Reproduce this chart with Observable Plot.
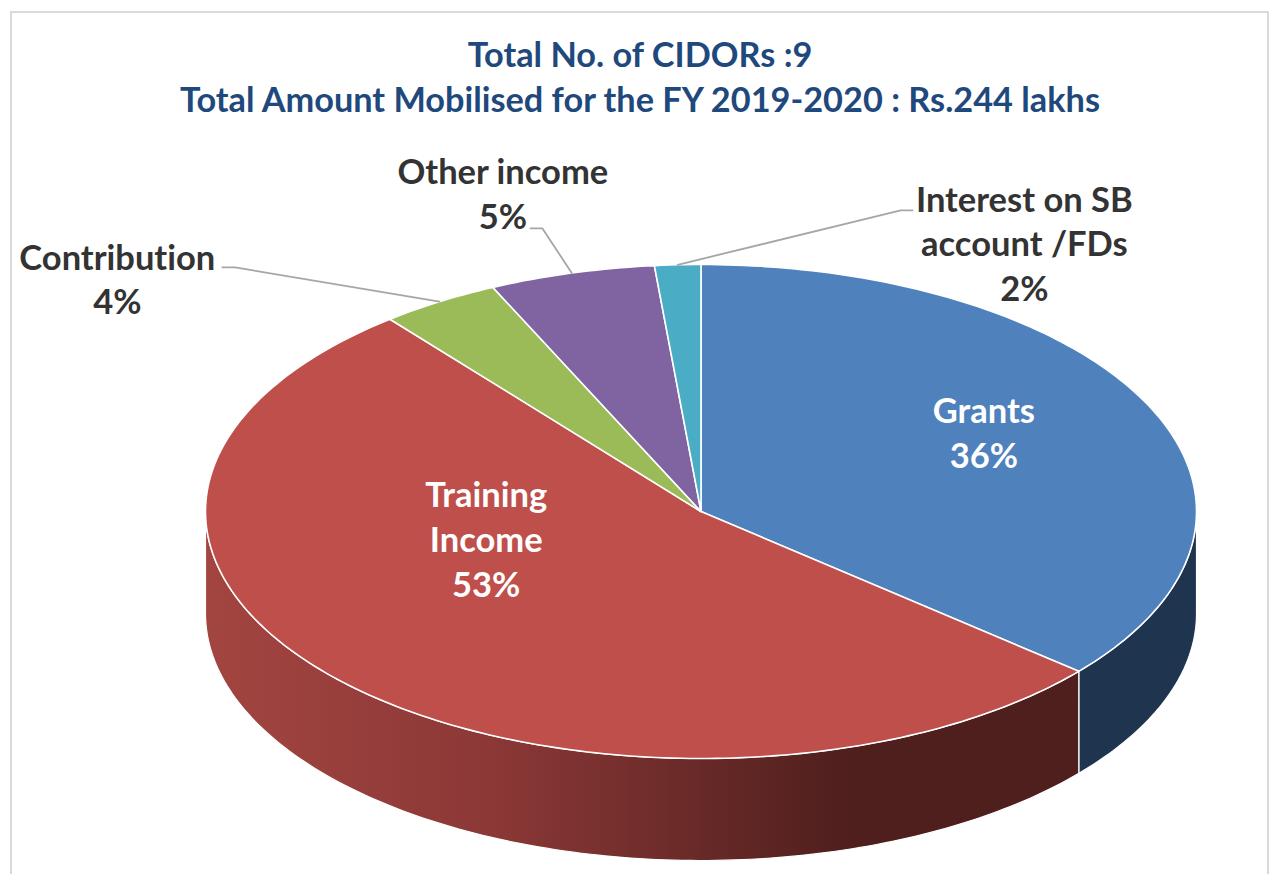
<!DOCTYPE html>
<html>
<head>
<meta charset="utf-8">
<script src="https://cdn.jsdelivr.net/npm/d3@7"></script>
<script src="https://cdn.jsdelivr.net/npm/@observablehq/plot@0.6"></script>
<style>
  html, body { margin: 0; padding: 0; background: #fff; overflow: hidden; }
  #frame { position: absolute; left: 10px; top: 11px; width: 1259px; height: 880px;
           border: 2px solid #d9d9d9; box-sizing: border-box; }
  #title { position: absolute; left: 0; top: 0; width: 1271px; height: 130px; text-align: center;
           font-family: Lato, sans-serif; font-weight: 700; font-size: 34.3px; color: #1f497d;
           font-variant-ligatures: none; }
  #title div { position: absolute; width: 100%; line-height: 45px; }
  #chart { position: absolute; left: 0; top: 130px; }
  #chart svg { display: block; background: transparent; font-variant-ligatures: none; }
</style>
</head>
<body>
<div id="frame"></div>
<div id="title">
  <div style="top:31px; left:4.5px">Total No. of CIDORs :9</div>
  <div style="top:76px; left:4.5px">Total Amount Mobilised for the FY 2019-2020 : Rs.244 lakhs</div>
</div>
<div id="chart"></div>
<script>
// Data
const categories = ["Grants", "Training Income", "Contribution", "Other income", "Interest on SB account /FDs"];
const sliceShares = [36.2, 53.0, 3.9, 5.4, 1.5];
const shareLabels = ["36%", "53%", "4%", "5%", "2%"];
const labelLines = ["Grants", "Training\nIncome", "Contribution", "Other income", "Interest on SB\naccount /FDs"];

// Styling
const topColors = ["#4f81bd", "#be4f4b", "#9bbb59", "#8064a2", "#4bacc6"];
const sideFills = {"Grants": "#1f344e", "Training Income": "url(#redSide)"};
const labelColors = ["#ffffff", "#ffffff", "#333333", "#333333", "#333333"];
const depth = 0.413;

// Layout: label radius and pixel nudge, and leader waypoints in pie units
const labelPlacement = [
  {r: 0.6, dx: 13, dy: -18},
  {r: 0.6, dx: -2, dy: -77},
  {r: 1.1, dx: -296, dy: -3},
  {r: 1.1, dx: -56, dy: -57},
  {r: 1.1, dx: 349, dy: 2}
];
const leaderWaypoints = {
  "Contribution": [[-0.94, -0.988], [-0.966, -0.988]],
  "Other income": [[-0.32, -1.146], [-0.344, -1.146]],
  "Interest on SB account /FDs": [[0.403, -1.219], [0.427, -1.219]]
};

// Geometry derived from the shares (clockwise from 12 o'clock)
const total = d3.sum(sliceShares);
const cum = d3.cumsum(sliceShares);
const deg = (s) => (s / total) * 360;
const polar = (a, r = 1) => {
  const t = (a * Math.PI) / 180;
  return [r * Math.sin(t), -r * Math.cos(t)];
};
const arc = (a0, a1) => {
  const n = Math.max(2, Math.ceil(Math.abs(a1 - a0)));
  return d3.range(n + 1).map((i) => polar(a0 + ((a1 - a0) * i) / n));
};
const slices = categories.map((name, i) => {
  const a0 = deg(i ? cum[i - 1] : 0), a1 = deg(cum[i]);
  return {name, a0, a1, mid: (a0 + a1) / 2, i};
});

const topPoints = slices.flatMap((s) =>
  [[0, 0], ...arc(s.a0, s.a1), [0, 0]].map(([x, y]) => ({name: s.name, x, y})));

const sideMarks = slices
  .filter((s) => sideFills[s.name])
  .map((s) => {
    const outer = arc(Math.max(s.a0, 90), Math.min(s.a1, 270));
    const ring = [...outer, ...outer.slice().reverse().map(([x, y]) => [x, y + depth]), outer[0]];
    return Plot.line(ring, {
      x: (d) => d[0], y: (d) => d[1], curve: "linear",
      fill: sideFills[s.name], stroke: "#fff", strokeWidth: 1.2, strokeLinejoin: "round"
    });
  });

const labelMarks = slices.map((s) => {
  const p = labelPlacement[s.i];
  const [x, y] = polar(s.mid, p.r);
  return Plot.text([{x, y, t: labelLines[s.i] + "\n" + shareLabels[s.i]}], {
    x: "x", y: "y", text: "t", dx: p.dx, dy: p.dy,
    fill: labelColors[s.i], fontFamily: "Lato, sans-serif", fontWeight: 700, fontSize: 34.5,
    lineHeight: 1.3, lineAnchor: "middle", textAnchor: "middle"
  });
});

const leaderMarks = slices
  .filter((s) => leaderWaypoints[s.name])
  .map((s) => Plot.line([polar(s.mid), ...leaderWaypoints[s.name]], {
    x: (d) => d[0], y: (d) => d[1], curve: "linear",
    stroke: "#a6a6a6", strokeWidth: 1.8
  }));

function gradientDefs() {
  const ns = "http://www.w3.org/2000/svg";
  const defs = document.createElementNS(ns, "defs");
  const g = document.createElementNS(ns, "linearGradient");
  g.setAttribute("id", "redSide");
  g.setAttribute("x1", "0"); g.setAttribute("x2", "1"); g.setAttribute("y1", "0"); g.setAttribute("y2", "0");
  [[0, "#a34541"], [0.33, "#8b3836"], [0.74, "#4e1f1d"], [1, "#4e1f1d"]].forEach(([o, c]) => {
    const st = document.createElementNS(ns, "stop");
    st.setAttribute("offset", o); st.setAttribute("stop-color", c);
    g.appendChild(st);
  });
  defs.appendChild(g);
  return defs;
}

const chart = Plot.plot({
  width: 1271, height: 744,
  margin: 0,
  style: {background: "transparent", overflow: "visible"},
  x: {domain: [-1, 1], range: [205, 1196], axis: null},
  y: {domain: [-1, 1], range: [134, 628], axis: null},
  color: {domain: categories, range: topColors},
  marks: [
    gradientDefs,
    ...sideMarks,
    Plot.line(topPoints, {
      x: "x", y: "y", z: "name", fill: "name", curve: "linear",
      stroke: "#fff", strokeWidth: 1.6, strokeLinejoin: "round"
    }),
    ...leaderMarks,
    ...labelMarks
  ]
});
document.getElementById("chart").appendChild(chart);
</script>
</body>
</html>
